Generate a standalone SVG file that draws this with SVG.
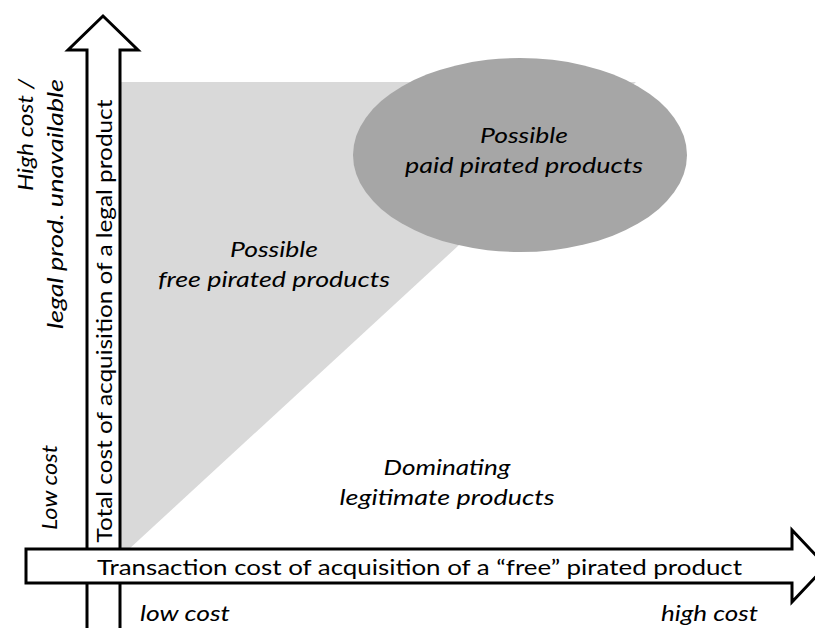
<svg xmlns="http://www.w3.org/2000/svg" width="815" height="628" viewBox="0 0 815 628">
<style>
text { font-family: Lato, "Open Sans", "Liberation Sans", sans-serif; font-size: 22px; fill: #000; }
.it { font-style: italic; }
.axis { fill: #fff; stroke: #000; stroke-width: 3; stroke-linejoin: miter; }
</style>
<rect width="815" height="628" fill="#fff"/>
<g id="free-region">
  <polygon points="120,82 636,82 128,550 120,550" fill="#d9d9d9"/>
  <text class="it" x="274" y="257" text-anchor="middle" textLength="88" lengthAdjust="spacingAndGlyphs">Possible</text>
  <text class="it" x="274" y="287" text-anchor="middle" textLength="232" lengthAdjust="spacingAndGlyphs">free pirated products</text>
</g>
<g id="paid-region">
  <ellipse cx="520" cy="155" rx="167" ry="97" fill="#a6a6a6"/>
  <text class="it" x="524" y="143" text-anchor="middle" textLength="88" lengthAdjust="spacingAndGlyphs">Possible</text>
  <text class="it" x="524" y="173" text-anchor="middle" textLength="238" lengthAdjust="spacingAndGlyphs">paid pirated products</text>
</g>
<g id="legit-region">
  <text class="it" x="447" y="475" text-anchor="middle" textLength="127" lengthAdjust="spacingAndGlyphs">Dominating</text>
  <text class="it" x="447" y="505" text-anchor="middle" textLength="215" lengthAdjust="spacingAndGlyphs">legitimate products</text>
</g>
<g id="connectors">
  <g id="y-axis">
    <path class="axis" d="M87,640 L87,50 L68,50 L103,16 L138,50 L120,50 L120,640"/>
    <text transform="translate(112,321) rotate(-90)" text-anchor="middle" textLength="443" lengthAdjust="spacingAndGlyphs">Total cost of acquisition of  a legal product</text>
  </g>
  <g id="x-axis">
    <path class="axis" d="M26,549 L792,549 L792,530 L826,566 L792,602 L792,583 L26,583 Z"/>
    <text x="97" y="575" textLength="645" lengthAdjust="spacingAndGlyphs">Transaction cost of acquisition of a “free” pirated product</text>
  </g>
</g>
<g id="y-labels">
  <text class="it" transform="translate(33,79) rotate(-90)" text-anchor="end" textLength="112" lengthAdjust="spacingAndGlyphs">High cost /</text>
  <text class="it" transform="translate(63,79) rotate(-90)" text-anchor="end" textLength="250" lengthAdjust="spacingAndGlyphs">legal prod. unavailable</text>
  <text class="it" transform="translate(57,530) rotate(-90)" textLength="85" lengthAdjust="spacingAndGlyphs">Low cost</text>
</g>
<g id="x-labels">
  <text class="it" x="140" y="621" textLength="90" lengthAdjust="spacingAndGlyphs">low cost</text>
  <text class="it" x="661" y="621" textLength="97" lengthAdjust="spacingAndGlyphs">high cost</text>
</g>
</svg>
